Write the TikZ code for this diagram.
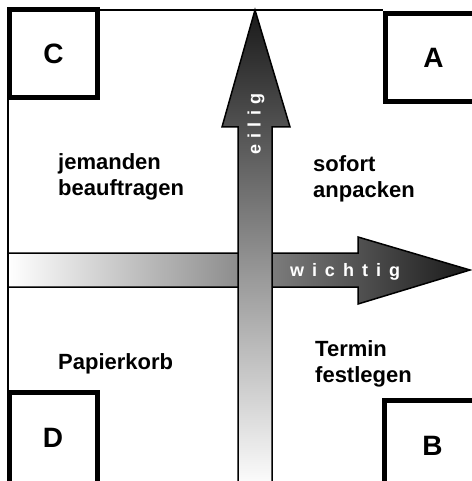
\documentclass[tikz,border=0pt]{standalone}
\usepackage{fontspec}
\setmainfont{Liberation Sans}
\usetikzlibrary{positioning}

\begin{document}
\begin{tikzpicture}[x=1pt,y=-1pt,
    quadrant/.style={draw,line width=5pt,minimum width=88pt,minimum height=88pt,inner sep=0pt,
      font=\fontsize{28}{28}\selectfont\bfseries},
    task/.style={align=left,inner sep=0pt,anchor=north west,
      font=\fontsize{22}{26}\selectfont\bfseries},
    axis/.style={draw=black,line width=1.5pt},
    axislabel/.style={text=white,inner sep=0pt,font=\fontsize{18}{18}\selectfont\bfseries}]

  \useasboundingbox (0,0) rectangle (471,481);

  % frame
  \draw[line width=2.5pt] (8,481) -- (8,10) -- (383,10);

  % wichtig
  \shade[axis,left color=white,middle color=black!25,right color=black!90]
    (8,253) -- (358,253) -- (358,237) -- (470,270) -- (358,304) -- (358,287) -- (8,287) -- cycle;

  % eilig
  \shade[axis,top color=black!90,middle color=black!30,bottom color=white]
    (238,490) -- (238,127) -- (222,127) -- (255,10) -- (290,127) -- (272,127) -- (272,490) -- cycle;

  \node[axislabel,rotate=90] (urgent) at (256,124) {e\kern6pt i\kern6pt l\kern6pt i\kern6pt g};
  \node[axislabel] (important) at (345,272) {w\kern8pt i\kern8pt c\kern8pt h\kern8pt t\kern8pt i\kern8pt g};

  % quadranten
  \node[quadrant] (C) at (53.5,54) {C};
  \node[quadrant,minimum width=96pt] (A) at (433.5,57.5) {A};
  \node[quadrant,minimum height=100pt] (D) at (53,442.5) {\raisebox{9pt}{D}};
  \node[quadrant,minimum width=96pt,minimum height=100pt] (B) at (432.5,450.5) {\raisebox{10pt}{B}};

  \node[task] (delegate) at (58,153) {jemanden\\beauftragen};
  \node[task] (now) at (313,155) {sofort\\anpacken};
  \node[task] (bin) at (58,353) {Papierkorb};
  \node[task] (schedule) at (315,340) {Termin\\festlegen};

\end{tikzpicture}
\end{document}
